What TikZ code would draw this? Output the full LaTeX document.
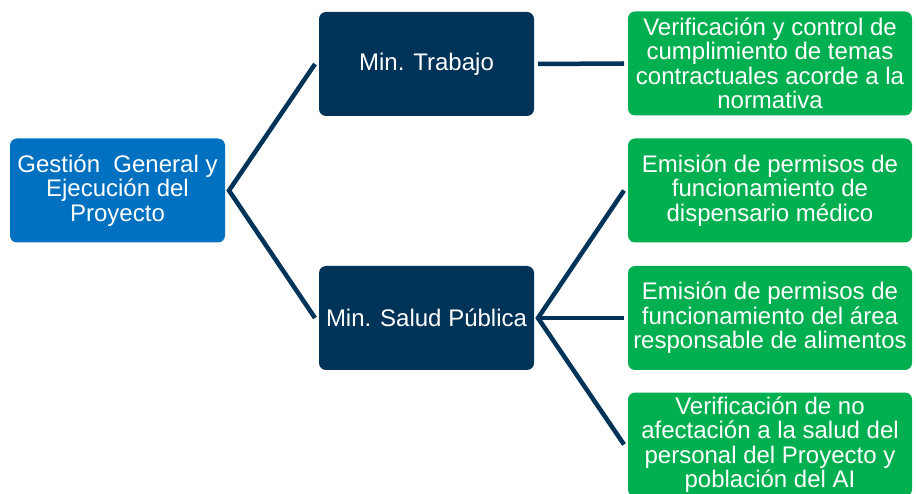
\documentclass[tikz,border=0pt]{standalone}
\usepackage{fontspec}
\setmainfont{Liberation Sans}
\definecolor{azul}{HTML}{0070C0}
\definecolor{marino}{HTML}{003358}
\definecolor{verde}{HTML}{00B050}
\begin{document}
\begin{tikzpicture}[x=1pt,y=-1pt,
		caja/.style={rounded corners=7pt,minimum width=215pt,minimum height=104pt,inner sep=0pt,outer sep=4pt,text=white,align=center,font=\fontsize{24}{24.5}\selectfont},
		tarea/.style={caja,fill=verde,minimum width=284pt},
		linea/.style={draw=marino,line width=4.5pt}]
		\useasboundingbox (0,0) rectangle (916,494);
		% nivel 1
		\node[caja,fill=azul] (gestion) at (117.5,190.5) {Gesti\'on\ \ General y\\Ejecuci\'on del\\Proyecto};
		% nivel 2
		\node[caja,fill=marino] (trabajo) at (426.5,64) {Min. Trabajo};
		\node[caja,fill=marino] (salud) at (426.5,318) {Min. Salud P\'ublica};
		% nivel 3
		\node[tarea] (control) at (770,63.5) {Verificaci\'on y control de\\cumplimiento de temas\\contractuales acorde a la\\normativa};
		\node[tarea] (dispensario) at (770,190.5) {Emisi\'on de permisos de\\funcionamiento de\\dispensario m\'edico};
		\node[tarea] (alimentos) at (770,318) {Emisi\'on de permisos de\\funcionamiento del \'area\\responsable de alimentos};
		\node[tarea] (afectacion) at (770,444.5) {Verificaci\'on de no\\afectaci\'on a la salud del\\personal del Proyecto y\\poblaci\'on del AI};
		% conectores
		\draw[linea] (trabajo.west) -- (gestion.east) -- (salud.west);
		\draw[linea] (trabajo.east) -- (control.west);
		\draw[linea] (dispensario.west) -- (salud.east) -- (afectacion.west);
		\draw[linea] (salud.east) -- (alimentos.west);
	\end{tikzpicture}
\end{document}
